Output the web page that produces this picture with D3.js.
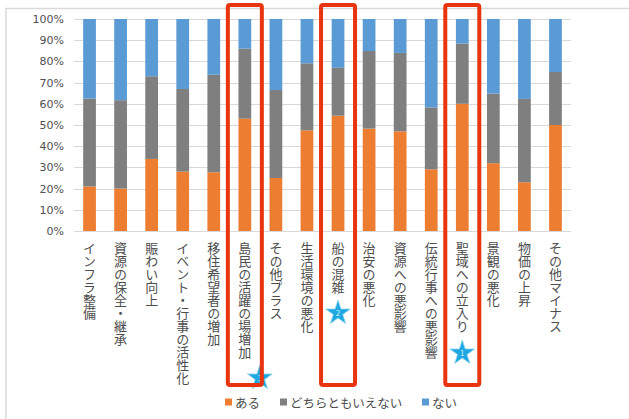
<!DOCTYPE html>
<html>
<head>
	<meta charset="UTF-8">
	<title>100% stacked</title>
	<script src="https://cdn.jsdelivr.net/npm/d3@7"></script>
	<style>
		body { padding: 0; margin: 0; background: #fff; }
		text { font-family: "Noto Sans CJK JP", "Noto Sans", sans-serif; }
	</style>
</head>
<body>
	<script>
		var w = 629, h = 419;

		var categories = ["インフラ整備", "資源の保全・継承", "賑わい向上", "イベント・行事の活性化",
			"移住希望者の増加", "島民の活躍の場増加", "その他プラス", "生活環境の悪化", "船の混雑",
			"治安の悪化", "資源への悪影響", "伝統行事への悪影響", "聖域への立入り", "景観の悪化",
			"物価の上昇", "その他マイナス"];
		var aru = [21, 20, 34, 28, 27.7, 53, 25, 47.5, 54.4, 48.3, 47, 29.1, 60, 32, 23, 50];
		var dochira = [41.5, 41.7, 39, 39, 46, 33, 41.5, 31.6, 22.6, 36.6, 37, 29.2, 28.4, 32.8, 39.3, 25];
		var nai = [37.5, 38.3, 27, 33, 26.3, 14, 33.5, 20.9, 23, 15.1, 16, 41.7, 11.6, 35.2, 37.7, 25];
		var seriesNames = ["ある", "どちらともいえない", "ない"];
		var colors = ["#ED7D31", "#7F7F7F", "#5B9BD5"];
		var yTicks = [0, 10, 20, 30, 40, 50, 60, 70, 80, 90, 100];
		// highlighted bars and their ranking stars
		var picks = ["聖域への立入り", "船の混雑", "島民の活躍の場増加"];
		var pickRank = ["1", "2", "3"];
		var starY = [353, 313, 378];
		var starDx = [0, 0, 15];

		var rows = categories.map(function (c, i) {
			return { cat: c, "ある": aru[i], "どちらともいえない": dochira[i], "ない": nai[i] };
		});

		var svg = d3.select("body").append("svg")
			.attr("width", w)
			.attr("height", h);

		// frame
		svg.append("path")
			.attr("d", "M6,419 V8.5 H629")
			.attr("fill", "none")
			.attr("stroke", "#d9d9d9")
			.attr("stroke-width", 1.5);

		var x = d3.scaleBand().domain(categories).range([74, 571]).paddingInner(0.59).paddingOuter(0.295);
		var y = d3.scaleLinear().domain([0, 100]).range([231, 19]);

		// grid
		svg.append("g").selectAll("line")
			.data(yTicks)
			.join("line")
			.attr("x1", 74).attr("x2", 571)
			.attr("y1", function (d) { return Math.round(y(d)) + 0.5; })
			.attr("y2", function (d) { return Math.round(y(d)) + 0.5; })
			.attr("stroke", "#d9d9d9");

		var yAxis = svg.append("g")
			.attr("transform", "translate(70,0)")
			.call(d3.axisLeft(y).tickValues(yTicks).tickSize(0).tickPadding(6)
				.tickFormat(function (d) { return d + "%"; }));
		yAxis.select(".domain").remove();
		yAxis.selectAll("text")
			.attr("fill", "#505050")
			.style("font-family", "'DejaVu Sans', sans-serif")
			.style("font-size", "11px");

		var stacked = d3.stack().keys(seriesNames)(rows);

		svg.append("g").selectAll("g")
			.data(stacked)
			.join("g")
			.attr("fill", function (d, i) { return colors[i]; })
			.selectAll("rect")
			.data(function (d) { return d; })
			.join("rect")
			.attr("x", function (d) { return x(d.data.cat); })
			.attr("width", x.bandwidth())
			.attr("y", function (d) { return y(d[1]); })
			.attr("height", function (d) { return y(d[0]) - y(d[1]); });

		// vertical category labels
		svg.append("g").selectAll("text")
			.data(categories)
			.join("text")
			.attr("x", function (d) { return x(d) + x.bandwidth() / 2; })
			.attr("y", 242)
			.style("writing-mode", "vertical-rl")
			.style("text-orientation", "upright")
			.style("font-size", "13px")
			.attr("fill", "#4d4d4d")
			.attr("text-anchor", "start")
			.attr("dominant-baseline", "central")
			.text(function (d) { return d; });

		// stars
		var star = d3.symbol().type(d3.symbolStar).size(190);
		var stars = svg.append("g").selectAll("g")
			.data(picks)
			.join("g")
			.attr("transform", function (d, i) {
				return "translate(" + (x(d) + x.bandwidth() / 2 + starDx[i]) + "," + starY[i] + ")";
			});
		stars.append("path")
			.attr("d", star)
			.attr("fill", "#1EA7E1")
			.attr("stroke", "#8fd3f0")
			.attr("stroke-width", 0.8);
		stars.append("text")
			.attr("y", 3)
			.attr("text-anchor", "middle")
			.attr("fill", "#d6f0fb")
			.style("font-size", "8px")
			.text(function (d, i) { return pickRank[i]; });

		// red highlight boxes
		svg.append("g").selectAll("rect")
			.data(picks)
			.join("rect")
			.attr("x", function (d) { return x(d) + x.bandwidth() / 2 - 17; })
			.attr("y", 5)
			.attr("width", 34)
			.attr("height", 380)
			.attr("rx", 2)
			.attr("fill", "none")
			.attr("stroke", "#E8350F")
			.attr("stroke-width", 4);

		// legend
		var legendX = [225, 280, 422];
		var legend = svg.append("g").selectAll("g")
			.data(seriesNames)
			.join("g")
			.attr("transform", function (d, i) { return "translate(" + legendX[i] + ",402)"; });
		legend.append("rect")
			.attr("x", 0).attr("y", -3.5)
			.attr("width", 7).attr("height", 7)
			.attr("fill", function (d, i) { return colors[i]; });
		legend.append("text")
			.attr("x", 10)
			.attr("dominant-baseline", "central")
			.attr("fill", "#4d4d4d")
			.style("font-size", "12.5px")
			.text(function (d) { return d; });
	</script>
</body>
</html>
